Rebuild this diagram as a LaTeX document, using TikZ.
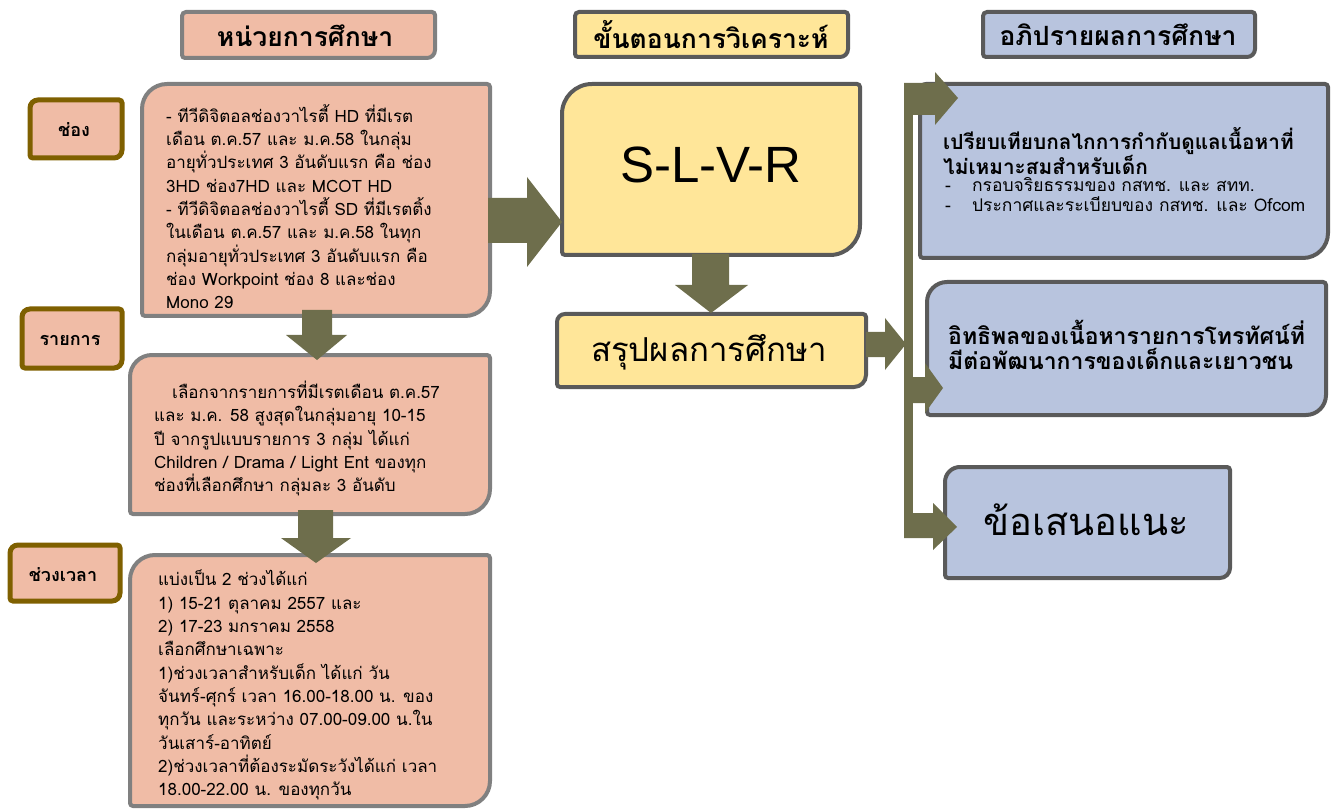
\documentclass[tikz,border=0pt]{standalone}
\usepackage{fontspec}
\setmainfont{Liberation Sans}
\newfontfamily\thai[Script=Thai]{Loma}
\definecolor{salmon}{HTML}{F0BCA6}
\definecolor{yel}{HTML}{FFE699}
\definecolor{blu}{HTML}{B8C4DE}
\definecolor{arrowc}{HTML}{6E6E4C}
\definecolor{grayA}{HTML}{808080}
\definecolor{grayB}{HTML}{5A5A5A}
\definecolor{brownc}{HTML}{7F6000}
\newcommand\shapebox[8]{%
  \draw[#1] ({#3},{-#4-#7}) arc[start angle=180,end angle=90,radius=#7pt]
    -- ({#5-3},{-#4}) arc[start angle=90,end angle=0,radius=3pt]
    -- ({#5},{-#6+#8}) arc[start angle=0,end angle=-90,radius=#8pt]
    -- ({#3+3},{-#6}) arc[start angle=270,end angle=180,radius=3pt] -- cycle;
  \coordinate (#2) at ({(#3+#5)/2},{-(#4+#6)/2});}
\tikzset{
  olive/.style={fill=arrowc, draw=none},
  sbox/.style={fill=salmon, draw=grayA, line width=4pt},
  hbox/.style={draw=grayA, line width=4pt},
  ybox/.style={fill=yel, draw=grayB, line width=4pt},
  bbox/.style={fill=blu, draw=grayB, line width=4pt},
  lbox/.style={fill=salmon, draw=brownc, line width=5pt},
  txt/.style={inner sep=0, align=left, anchor=north west, font=\thai\fontsize{17}{23.3}\selectfont},
  head/.style={inner sep=0, font=\thai\bfseries\fontsize{26.5}{30}\selectfont},
  lab/.style={inner sep=0, font=\thai\bfseries\fontsize{18}{21}\selectfont},
}
\begin{document}
\begin{tikzpicture}[x=1pt,y=1pt]
\useasboundingbox (0,0) rectangle (1336,-810);
% headers
\shapebox{hbox,fill=salmon}{h1}{182}{12}{435}{58}{4}{8}
\shapebox{hbox,fill=yel,draw=grayB}{h2}{575}{12}{848}{57}{4}{8}
\shapebox{hbox,fill=blu,draw=grayB}{h3}{983}{12}{1255}{57}{4}{8}
\node[head] (h1t) at (305,-36) {หน่วยการศึกษา};
\node[head] (h2t) at (711,-35) {ขั้นตอนการวิเคราะห์};
\node[head] (h3t) at (1118,-35) {อภิปรายผลการศึกษา};
% left labels
\shapebox{lbox}{l1}{30}{100}{122}{158}{8}{8}
\shapebox{lbox}{l2}{22}{309}{122}{368}{8}{8}
\shapebox{lbox}{l3}{10}{545}{120}{601}{8}{8}
\node[lab] (l1t) at (74,-130) {ช่อง};
\node[lab] (l2t) at (70,-340) {รายการ};
\node[lab] (l3t) at (63,-575) {ช่วงเวลา};
% left boxes
\shapebox{sbox}{b1}{142}{84}{490}{316}{25}{25}
\shapebox{sbox}{b2}{130}{355}{490}{514}{22}{25}
\shapebox{sbox}{b3}{130}{555}{490}{806}{25}{25}
\node[txt] (b1t) at (166,-104) {-~ทีวีดิจิตอลช่องวาไรตี้ HD ที่มีเรต\\
เดือน ต.ค.57 และ ม.ค.58 ในกลุ่ม\\
อายุทั่วประเทศ 3 อันดับแรก คือ ช่อง\\
3HD ช่อง7HD และ MCOT HD\\
-~ทีวีดิจิตอลช่องวาไรตี้ SD ที่มีเรตติ้ง\\
ในเดือน ต.ค.57 และ ม.ค.58 ในทุก\\
กลุ่มอายุทั่วประเทศ 3 อันดับแรก คือ\\
ช่อง Workpoint ช่อง 8 และช่อง\\
Mono 29};
\node[txt] (b2t) at (154,-381) {\hspace*{18pt}เลือกจากรายการที่มีเรตเดือน ต.ค.57\\
และ ม.ค. 58 สูงสุดในกลุ่มอายุ 10-15\\
ปี จากรูปแบบรายการ 3 กลุ่ม ได้แก่\\
Children / Drama / Light Ent ของทุก\\
ช่องที่เลือกศึกษา กลุ่มละ 3 อันดับ};
\node[txt] (b3t) at (158,-570) {แบ่งเป็น 2 ช่วงได้แก่\\
1) 15-21 ตุลาคม 2557 และ\\
2) 17-23 มกราคม 2558\\
เลือกศึกษาเฉพาะ\\
1)ช่วงเวลาสำหรับเด็ก ได้แก่ วัน\\
จันทร์-ศุกร์ เวลา 16.00-18.00 น. ของ\\
ทุกวัน และระหว่าง 07.00-09.00 น.ใน\\
วันเสาร์-อาทิตย์\\
2)ช่วงเวลาที่ต้องระมัดระวังได้แก่ เวลา\\
18.00-22.00 น. ของทุกวัน};
% middle
\shapebox{ybox}{slvr}{562}{84}{860}{255}{30}{30}
\shapebox{ybox}{sum}{557}{314}{866}{387}{8}{12}
\node[inner sep=0, font=\fontsize{51}{58}\selectfont] (slvrt) at (711,-165) {S-L-V-R};
\node[inner sep=0, font=\thai\fontsize{33}{38}\selectfont] (sumt) at (709,-352) {สรุปผลการศึกษา};
% right
\shapebox{bbox}{ra}{920}{84}{1328}{258}{6}{25}
\shapebox{bbox}{rb}{927}{282}{1326}{415}{20}{20}
\shapebox{bbox}{rc}{945}{467}{1230}{578}{15}{10}
\node[inner sep=0, align=left, anchor=north west, font=\thai\bfseries\fontsize{20.8}{22.5}\selectfont] (rat) at (943,-127) {เปรียบเทียบกลไกการกำกับดูแลเนื้อหาที่\\ไม่เหมาะสมสำหรับเด็ก};
\node[inner sep=0, align=left, anchor=north west, font=\thai\fontsize{17.5}{20.5}\selectfont] (rab) at (945,-177) {-\hspace{21pt}กรอบจริยธรรมของ กสทช. และ สทท.\\-\hspace{21pt}ประกาศและระเบียบของ กสทช. และ Ofcom};
\node[inner sep=0, align=left, anchor=north west, font=\thai\bfseries\fontsize{23}{25}\selectfont] (rbt) at (948,-320) {อิทธิพลของเนื้อหารายการโทรทัศน์ที่\\มีต่อพัฒนาการของเด็กและเยาวชน};
\node[inner sep=0, font=\thai\fontsize{38}{44}\selectfont] (rct) at (1086,-520) {ข้อเสนอแนะ};
% arrows
\fill[olive] (488,-198) -- (527,-198) -- (527,-177) -- (562,-222) -- (527,-267) -- (527,-243) -- (488,-243) -- cycle;
\fill[olive] (302,-310) -- (332,-310) -- (332,-335) -- (347,-335) -- (317,-360) -- (286,-335) -- (302,-335) -- cycle;
\fill[olive] (298,-510) -- (333,-510) -- (333,-538) -- (351,-538) -- (316,-563) -- (281,-538) -- (298,-538) -- cycle;
\fill[olive] (692,-254) -- (729,-254) -- (729,-285) -- (748,-285) -- (711,-313) -- (675,-285) -- (692,-285) -- cycle;
\fill[olive] (866,-332) -- (885,-332) -- (885,-318) -- (906,-344) -- (885,-370) -- (885,-357) -- (866,-357) -- cycle;
\fill[olive] (904,-83) rectangle (913,-538);
\fill[olive] (904,-83) -- (935,-83) -- (935,-72) -- (958,-98) -- (935,-125) -- (935,-115) -- (904,-115) -- cycle;
\fill[olive] (904,-377) -- (925,-377) -- (925,-363) -- (943,-388) -- (925,-413) -- (925,-403) -- (904,-403) -- cycle;
\fill[olive] (904,-513) -- (933,-513) -- (933,-503) -- (957,-527) -- (933,-550) -- (933,-538) -- (904,-538) -- cycle;
\end{tikzpicture}
\end{document}
